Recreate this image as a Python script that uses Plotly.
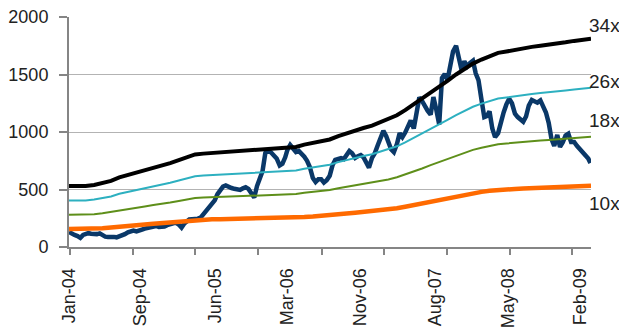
import pandas as pd
import plotly.graph_objects as go

# ---------------- data ----------------
tick_labels = ["Jan-04", "Sep-04", "Jun-05", "Mar-06", "Nov-06", "Aug-07", "May-08", "Feb-09"]

# Monthly earnings per share (start of month, Jan-2004 .. Mar-2009)
eps_dates = list(pd.date_range("2004-01-01", "2009-03-01", freq="MS").strftime("%Y-%m-%d"))
eps = [15.59, 15.59, 15.59, 15.88, 16.32, 16.91, 17.79, 18.38, 18.97, 19.56,
       20.24, 20.74, 21.47, 22.21, 22.94, 23.68, 23.88, 24.03, 24.18, 24.29,
       24.41, 24.56, 24.76, 24.94, 25.06, 25.18, 25.29, 25.59, 26.18, 26.62,
       27.00, 27.50, 28.38, 29.12, 29.85, 30.44, 31.03, 31.91, 32.65, 33.68,
       35.00, 36.47, 37.94, 39.56, 41.03, 42.50, 44.12, 45.59, 46.91, 47.94,
       48.82, 49.65, 50.00, 50.44, 50.82, 51.18, 51.47, 51.71, 52.00, 52.35,
       52.71, 53.00, 53.24]
pe_multiples = [34, 26, 18, 10]
pe_names = ["34x", "26x", "18x", "10x"]

# Price readings on the 1st, 11th and 21st of each month (Jan-2004 .. Mar-2009)
price_dates = []
for y in range(2004, 2010):
    for m in range(1, 13):
        for d in (1, 11, 21):
            price_dates.append(f"{y}-{m:02d}-{d:02d}")
price = [
    130, 115, 105,   95, 80, 105,   115, 120, 115,   110, 112, 118,     # 2004 Jan-Apr
    100, 90, 88,     92, 88, 84,    92, 104, 112,    128, 138, 142,     # 2004 May-Aug
    135, 148, 152,   160, 164, 168, 178, 183, 175,   172, 178, 190,     # 2004 Sep-Dec
    198, 205, 212,   195, 168, 205, 222, 240, 242,   240, 246, 255,     # 2005 Jan-Apr
    285, 305, 335,   383, 405, 460, 500, 525, 535,   520, 513, 506,     # 2005 May-Aug
    500, 496, 510,   520, 505, 470, 430, 530, 590,   660, 817, 835,     # 2005 Sep-Dec
    822, 800, 770,   710, 725, 780, 845, 887, 850,   826, 835, 815,     # 2006 Jan-Apr
    785, 750, 696,   600, 565, 590, 590, 560, 580,   620, 710, 757,     # 2006 May-Aug
    770, 772, 765,   795, 835, 815, 775, 790, 800,   780, 740, 690,     # 2006 Sep-Dec
    775, 815, 880,   948, 1010, 965, 910, 850, 825,  895, 990, 955,     # 2007 Jan-Apr
    995, 1060, 1100, 1030, 1150, 1300, 1270, 1220, 1185, 1150, 1304, 1200,  # 2007 May-Aug
    1065, 1470, 1505, 1452, 1565, 1700, 1750, 1640, 1540, 1615, 1570, 1600,  # 2007 Sep-Dec
    1620, 1510, 1452, 1280, 1130, 1140, 1180, 1030, 955, 990, 1090, 1170,  # 2008 Jan-Apr
    1240, 1290, 1250, 1160, 1130, 1104, 1090, 1135, 1230, 1278, 1270, 1255,  # 2008 May-Aug
    1275, 1225, 1170, 1080, 940, 880, 975, 870, 910,  970, 985, 913,    # 2008 Sep-Dec
    913, 880, 850,   822, 800, 770,   730,                               # 2009 Jan-Mar
]
price_dates = price_dates[:len(price)]

# ---------------- styling / layout ----------------
X_START, X_END = "2004-01-01", "2009-03-03"
label_pos = ["2004-01-01", "2004-09-14", "2005-06-12", "2006-02-28",
             "2006-11-19", "2007-08-17", "2008-05-07", "2009-01-22"]
tick_pos = ["2004-01-05", "2004-08-19", "2005-04-01", "2005-11-15", "2006-07-05",
            "2007-02-13", "2007-09-29", "2008-05-14", "2008-12-24"]

band_style = {
    34: dict(color="#000000", width=4),
    26: dict(color="#2DB0C0", width=2),
    18: dict(color="#5E8F1A", width=2),
    10: dict(color="#FF6A00", width=4.5),
}
label_y = {34: 1930, 26: 1443, 18: 1096, 10: 378}

FONT = "Liberation Sans, Arial, sans-serif"
FS = 18
AXIS_GREY = "#858585"

fig = go.Figure()

fig.add_trace(go.Scatter(
    x=price_dates, y=price, mode="lines",
    line=dict(color="#0A3868", width=4.5), showlegend=False, hoverinfo="skip"))

band_x = eps_dates + [X_END]
for mult in pe_multiples:
    vals = [mult * e for e in eps]
    vals = vals + [vals[-1]]
    fig.add_trace(go.Scatter(
        x=band_x, y=vals, mode="lines", line_shape="linear",
        line=band_style[mult], showlegend=False, hoverinfo="skip"))

# dummy trace to activate tick-mark overlay axis
fig.add_trace(go.Scatter(x=[X_START], y=[0], xaxis="x2", mode="markers",
                         marker=dict(opacity=0, size=1), showlegend=False,
                         hoverinfo="skip"))

annotations = []
for mult, name in zip(pe_multiples, pe_names):
    annotations.append(dict(
        x=0.9923, xref="paper", y=label_y[mult], yref="y",
        text=name, showarrow=False, xanchor="left", yanchor="middle",
        font=dict(family=FONT, size=FS + 1, color="#222222")))

fig.update_layout(
    width=619, height=335,
    margin=dict(l=69, r=28, t=17, b=88, autoexpand=False),
    plot_bgcolor="white", paper_bgcolor="white",
    font=dict(family=FONT, size=FS, color="#222222"),
    showlegend=False,
    annotations=annotations,
    xaxis=dict(
        type="date", range=[X_START, X_END], automargin=False,
        tickmode="array", tickvals=label_pos, ticktext=tick_labels,
        tickangle=-90, ticks="outside", ticklen=8, tickcolor="rgba(0,0,0,0)",
        ticklabelstandoff=4,
        showgrid=False, zeroline=False,
        showline=True, linecolor=AXIS_GREY, linewidth=2,
        tickfont=dict(family=FONT, size=FS, color="#222222"),
    ),
    xaxis2=dict(
        type="date", range=[X_START, X_END], overlaying="x", anchor="y",
        side="bottom", tickmode="array", tickvals=tick_pos, automargin=False,
        ticks="outside", ticklen=7, tickwidth=1.5, tickcolor=AXIS_GREY,
        showticklabels=False, showgrid=False, zeroline=False, showline=False,
    ),
    yaxis=dict(
        range=[0, 2000], tickmode="array", tickvals=[0, 500, 1000, 1500, 2000],
        automargin=False,
        ticks="outside", ticklen=8, tickwidth=1.5, tickcolor=AXIS_GREY,
        ticklabelstandoff=7,
        showgrid=True, gridcolor="#b3b3b3", gridwidth=1,
        zeroline=False, showline=True, linecolor=AXIS_GREY, linewidth=2,
        tickfont=dict(family=FONT, size=FS, color="#222222"),
    ),
)

fig.write_html("out.html")
